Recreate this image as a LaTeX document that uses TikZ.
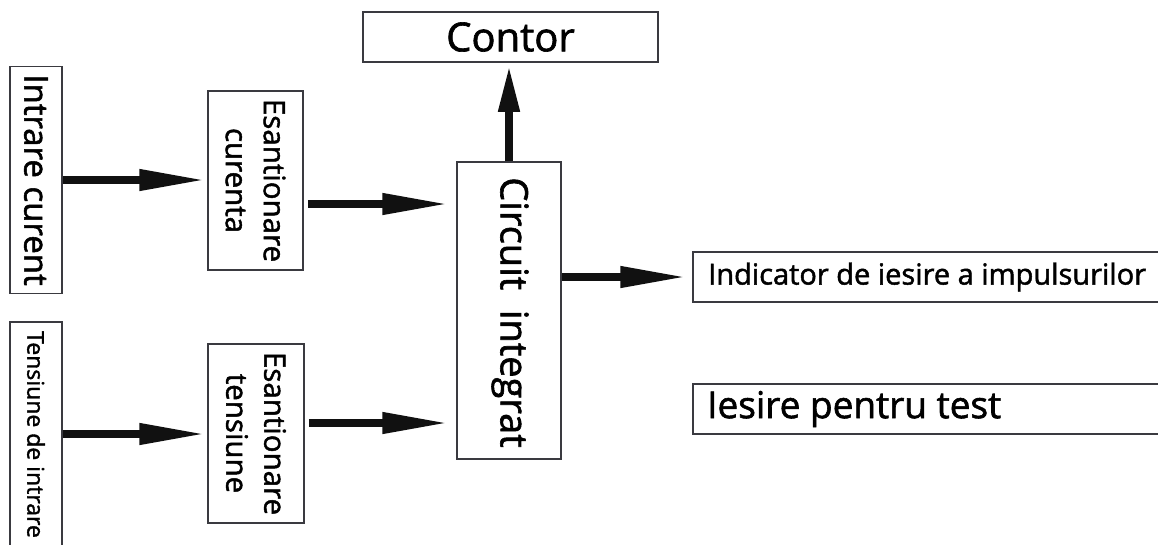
\documentclass[tikz,border=0pt]{standalone}
\usepackage{fontspec}
\setmainfont{Open Sans}[FakeBold=1.6]
\usetikzlibrary{arrows.meta,calc}
\definecolor{boxgray}{HTML}{3A3A40}
\definecolor{arrowblack}{HTML}{111111}
\newcommand\fsz[2]{\fontsize{#1pt}{#2pt}\selectfont}
\begin{document}
\begin{tikzpicture}[x=1pt,y=-1pt,
  box/.style={draw=boxgray,line width=1.5pt,inner sep=0pt,fill=none},
  lbl/.style={inner sep=0pt,text=black,rotate=-90,align=center},
  hlbl/.style={inner sep=0pt,text=black},
  arr/.style={draw=arrowblack,line width=7.5pt,-{Triangle[length=66pt,width=20pt]}},
  arrv/.style={draw=arrowblack,line width=7.5pt,-{Triangle[length=46pt,width=20pt]}}]
\clip (0,0) rectangle (1158,544);
\fill[white] (0,0) rectangle (1158,544);
% boxes
\node[box,minimum width=52pt,minimum height=227pt] (ic) at (36,180) {};
\node[box,minimum width=52pt,minimum height=224pt] (ti) at (36,434) {};
\node[box,minimum width=95pt,minimum height=179pt] (ec) at (255.5,180.5) {};
\node[box,minimum width=96pt,minimum height=179pt] (et) at (256,433.5) {};
\node[box,minimum width=104pt,minimum height=297pt] (ci) at (509,310.5) {};
\node[box,minimum width=295pt,minimum height=50pt] (co) at (510.5,37) {};
\node[box,minimum width=477pt,minimum height=50pt] (ind) at (931.5,277) {};
\node[box,minimum width=477pt,minimum height=50pt] (tst) at (931.5,409) {};
% labels
\node[lbl,font=\fsz{33}{40}] (ict) at (ic) {Intrare curent};
\node[lbl,font=\fsz{23}{28}] (tit) at (36,434.5) {Tensiune de intrare};
\node[lbl,font=\fsz{29.5}{38}] (ect) at (ec) {Esantionare\\curenta};
\node[lbl,font=\fsz{29.5}{38}] (ett) at (et) {Esantionare\\tensiune};
\node[lbl,font=\fsz{38}{46}] (cit) at (510,312.5) {Circuit~ integrat};
\node[hlbl,font=\fsz{40}{48}] (cot) at (co) {Contor};
\node[hlbl,font=\fsz{29}{35},anchor=west] (indt) at (708,277) {Indicator de iesire a impulsurilor};
\node[hlbl,font=\fsz{37}{44},anchor=west] (tstt) at (707,409) {Iesire pentru test};
% connectors
\draw[arr,shorten >=2pt] (ic.east) -- (ic.east -| ec.west);
\draw[arr,shorten >=2pt] (ti.east) -- (ti.east -| et.west);
\draw[arr,shorten >=8pt] ($(ec.east)+(4,23.5)$) -- ($(ec.east -| ci.west)+(0,23.5)$);
\draw[arr,shorten >=8pt] ($(et.east)+(4,-10.5)$) -- ($(et.east -| ci.west)+(0,-10.5)$);
\draw[arrv,shorten >=3pt] (ci.north) -- (ci.north |- co.south);
\draw[arr,shorten >=6pt] (ci.east |- ind.west) -- (ind.west);
\end{tikzpicture}
\end{document}
